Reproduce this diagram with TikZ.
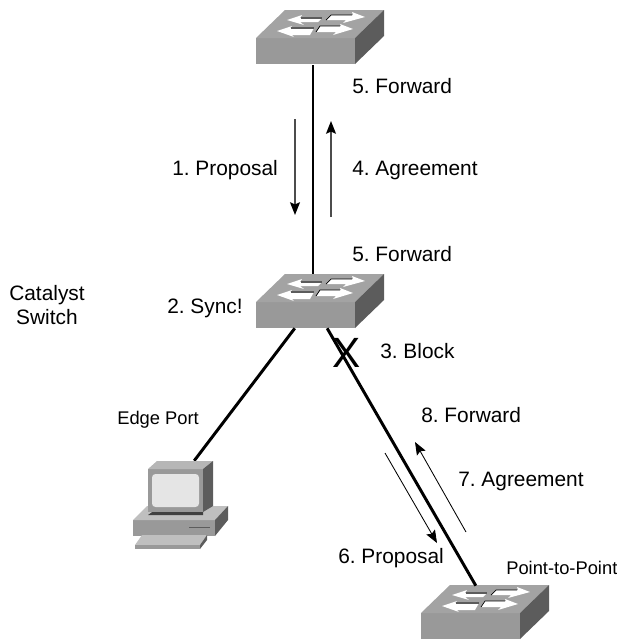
\documentclass[tikz,border=0pt]{standalone}
\usepackage{fontspec}
\setmainfont{Liberation Sans}
\usetikzlibrary{arrows.meta}
\definecolor{topgray}{gray}{0.64}
\definecolor{frontgray}{gray}{0.6}
\definecolor{sidegray}{gray}{0.36}
\tikzset{
    label/.style={font=\fontsize{14.8}{17}\selectfont, inner sep=0pt, anchor=west},
    smalllabel/.style={font=\fontsize{13}{15}\selectfont, inner sep=0pt, anchor=west},
    link/.style={black, line width=2.1pt},
    flow/.style={black!70, line width=1.2pt, -{Stealth[length=9pt,width=7pt,inset=1.5pt,color=black]}},
    thinflow/.style={black, line width=0.6pt, -{Stealth[length=9pt,width=7pt,inset=1.5pt]}},
    port/.style={inner sep=0pt, minimum size=0pt},
    pics/switchicon/.style={code={
        \fill [frontgray] (0,0) rectangle (99,-26);
        \fill [topgray] (0,0) -- (29,28) -- (128,28) -- (99,0) -- cycle;
        \fill [sidegray] (99,0) -- (128,28) -- (128,2) -- (99,-26) -- cycle;
        \fill [white] (31,18) -- (46,23) -- (44,20) -- (66,20) -- (62,16) -- (44,16) -- (48,13) -- cycle;
        \fill [white] (21,7) -- (36,12) -- (34,10) -- (58,10) -- (54,3) -- (36,3) -- (38,1) -- cycle;
        \fill [white] (109,21) -- (96,26) -- (97,23) -- (75,23) -- (70,18) -- (90,18) -- (87,15) -- cycle;
        \fill [white] (97,9) -- (84,14) -- (85,12) -- (64,12) -- (60,6) -- (80,6) -- (77,3) -- cycle;
        \draw [black, line width=0.5pt] (70,18) -- (75,23) -- (96,23);
        \draw [black, line width=0.5pt] (60,6) -- (64,12) -- (84,12);
        \draw [sidegray, line width=0.8pt] (45,20) -- (66,20);
        \draw [sidegray, line width=0.8pt] (35,10) -- (58,10);
    }}
}
\begin{document}
\frenchspacing
\begin{tikzpicture}[x=0.709pt, y=0.709pt]
    \useasboundingbox (0,0) rectangle (617,-642);
    % switches
    \pic at (256,-38) {switchicon};
    \pic at (256,-302) {switchicon};
    \pic at (421,-613) {switchicon};
    \node [port] (topdown) at (313,-65) {};
    \node [port] (midup) at (313,-274) {};
    \node [port] (midleft) at (295,-328) {};
    \node [port] (midright) at (327,-328) {};
    \node [port] (pc) at (194,-461) {};
    \node [port] (lowup) at (476,-586) {};
    \draw [link] (topdown) -- (midup);
    \draw [link] (midleft) -- (pc);
    \draw [link] (midright) -- (lowup);
    % computer
    \fill [frontgray] (133,-520) rectangle (215,-536);
    \fill [topgray!70!white] (133,-520) -- (147,-506) -- (228,-506) -- (215,-520) -- cycle;
    \fill [sidegray] (215,-520) -- (228,-506) -- (228,-520) -- (215,-536) -- cycle;
    \fill [black!75] (148,-515) -- (203,-515) -- (203,-510) -- (155,-510) -- cycle;
    \fill [frontgray] (148,-469) rectangle (203,-512);
    \fill [topgray!80!white] (148,-469) -- (157,-461) -- (213,-461) -- (203,-469) -- cycle;
    \fill [sidegray] (203,-469) -- (213,-461) -- (213,-506) -- (203,-512) -- cycle;
    \fill [black!10, rounded corners=2.5pt] (152,-474) rectangle (199,-507);
    \draw [sidegray, line width=0.8pt] (189,-527.5) -- (210,-527.5);
    \fill [topgray!70!white] (142,-535) -- (207,-535) -- (200,-545) -- (135,-545) -- cycle;
    \fill [frontgray] (135,-545) rectangle (200,-549);
    \fill [sidegray] (200,-545) -- (207,-535) -- (207,-540) -- (200,-549) -- cycle;
    % labels
    \node [label] (fwdtop) at (352,-86) {5. Forward};
    \node [label] (prop) at (172,-170) {1. Proposal};
    \node [label] (agree) at (352,-170) {4. Agreement};
    \node [label] (fwdmid) at (352,-254) {5. Forward};
    \node [label, align=center] (cat) at (9,-305) {Catalyst\\Switch};
    \node [label] (sync) at (167,-308) {2. Sync!};
    \node [label] (block) at (380,-351) {3. Block};
    \node [label] (fwdlow) at (421,-415) {8. Forward};
    \node [label] (agreelow) at (458,-481) {7. Agreement};
    \node [label] (proplow) at (338,-558) {6. Proposal};
    \node [smalllabel] (edge) at (117,-420) {Edge Port};
    \node [smalllabel] (ptp) at (506,-568) {Point-to-Point};
    \node [inner sep=0pt, font=\fontsize{30}{30}\selectfont] (blockx) at (347,-353) {X};
    % arrows
    \coordinate (a1) at (295,-119);
    \coordinate (b1) at (295,-215);
    \coordinate (a4) at (331,-217);
    \coordinate (b4) at (331,-121);
    \coordinate (a6) at (385,-453);
    \coordinate (b6) at (437,-543);
    \coordinate (a7) at (466,-532);
    \coordinate (b7) at (415,-442);
    \draw [flow] (a1) -- (b1);
    \draw [flow] (a4) -- (b4);
    \draw [thinflow] (a6) -- (b6);
    \draw [thinflow] (a7) -- (b7);
\end{tikzpicture}
\end{document}
